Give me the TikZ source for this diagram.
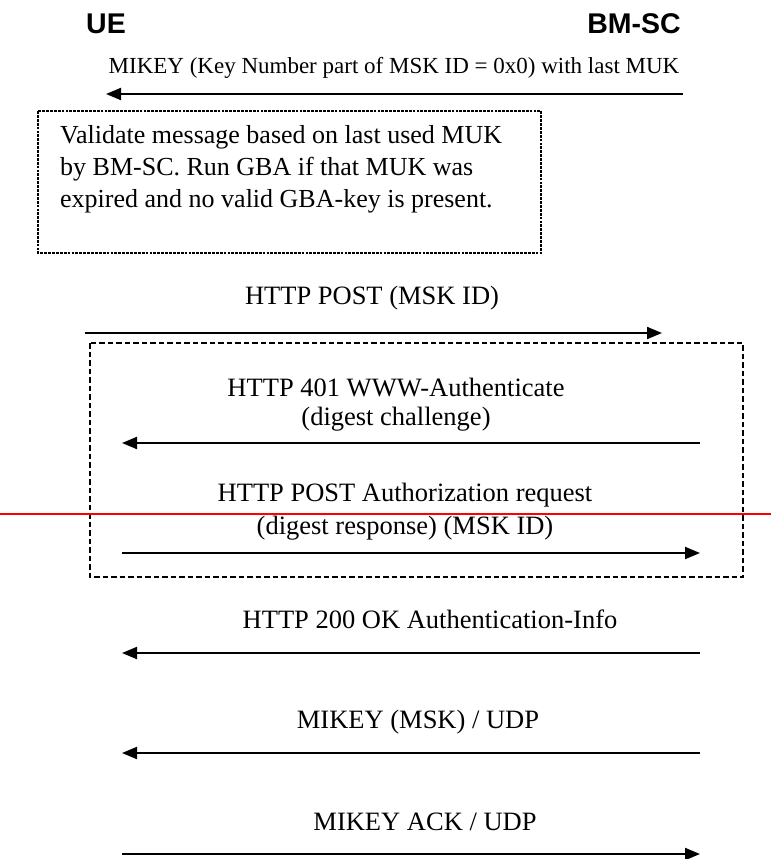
\documentclass[tikz,border=0pt]{standalone}
\usepackage{fontspec}
\setmainfont{Liberation Serif}
\newfontfamily\headfont{Liberation Sans}
\usetikzlibrary{arrows.meta}

\tikzset{
  msg/.style={line width=2pt, -{Triangle[length=15pt,width=12pt]}},
  lbl/.style={inner sep=0pt, font=\fontsize{26.5}{32}\selectfont},
  toplbl/.style={inner sep=0pt, font=\fontsize{23}{28}\selectfont},
  entity/.style={inner sep=0pt, anchor=base, font=\headfont\bfseries\fontsize{28.5}{34}\selectfont},
  notebox/.style={draw, line width=2.4pt, dash pattern=on 2.8pt off 1.1pt},
  groupbox/.style={draw, line width=2pt, dash pattern=on 5.5pt off 3pt},
  notetext/.style={inner sep=0pt, anchor=base west, font=\fontsize{26}{32}\selectfont},
}

\begin{document}
\begin{tikzpicture}[x=1pt, y=-1pt]
\useasboundingbox (0,0) rectangle (771,859);

% entities
\node[entity] (ue) at (106,34) {UE};
\node[entity] (bmsc) at (634,34) {BM-SC};

% MIKEY push with the last MUK
\node[toplbl] (l1) at (394,68) {MIKEY (Key Number part of MSK ID = 0x0) with last MUK};
\coordinate (m1s) at (683,94);
\coordinate (m1e) at (106,94);
\draw[msg] (m1s) -- (m1e);

% validation note
\coordinate (n1a) at (38,111);
\coordinate (n1b) at (541,253);
\draw[notebox] (n1a) rectangle (n1b);
\node[notetext] (t1) at (60,143) {Validate message based on last used MUK};
\node[notetext] (t2) at (60,175) {by BM-SC. Run GBA if that MUK was};
\node[notetext] (t3) at (60,207) {expired and no valid GBA-key is present.};

% HTTP POST (MSK ID)
\node[lbl] (l2) at (372,298) {HTTP POST (MSK ID)};
\coordinate (m2s) at (85,333);
\coordinate (m2e) at (662,333);
\draw[msg] (m2s) -- (m2e);

% digest authentication group
\coordinate (g1a) at (90,343);
\coordinate (g1b) at (743,577);
\draw[groupbox] (g1a) rectangle (g1b);

\node[lbl] (l3a) at (396,388) {HTTP 401 WWW-Authenticate};
\node[lbl] (l3b) at (396,419) {(digest challenge)};
\coordinate (m3s) at (700,443);
\coordinate (m3e) at (122,443);
\draw[msg] (m3s) -- (m3e);

\node[lbl] (l4a) at (405,495) {HTTP POST Authorization request};
\node[lbl] (l4b) at (405,528) {(digest response) (MSK ID)};
\coordinate (m4s) at (122,553);
\coordinate (m4e) at (700,553);
\draw[msg] (m4s) -- (m4e);

% red rule across the page
\coordinate (rl) at (0,514);
\coordinate (rr) at (771,514);
\draw[red, line width=1.4pt] (rl) -- (rr);

% HTTP 200 OK
\node[lbl] (l5) at (430,619) {HTTP 200 OK Authentication-Info};
\coordinate (m5s) at (700,653);
\coordinate (m5e) at (122,653);
\draw[msg] (m5s) -- (m5e);

% MIKEY (MSK)
\node[lbl] (l6) at (418,722) {MIKEY (MSK) / UDP};
\coordinate (m6s) at (700,753);
\coordinate (m6e) at (122,753);
\draw[msg] (m6s) -- (m6e);

% MIKEY ACK
\node[lbl] (l7) at (425,822) {MIKEY ACK / UDP};
\coordinate (m7s) at (122,854);
\coordinate (m7e) at (700,854);
\draw[msg] (m7s) -- (m7e);
\end{tikzpicture}
\end{document}
